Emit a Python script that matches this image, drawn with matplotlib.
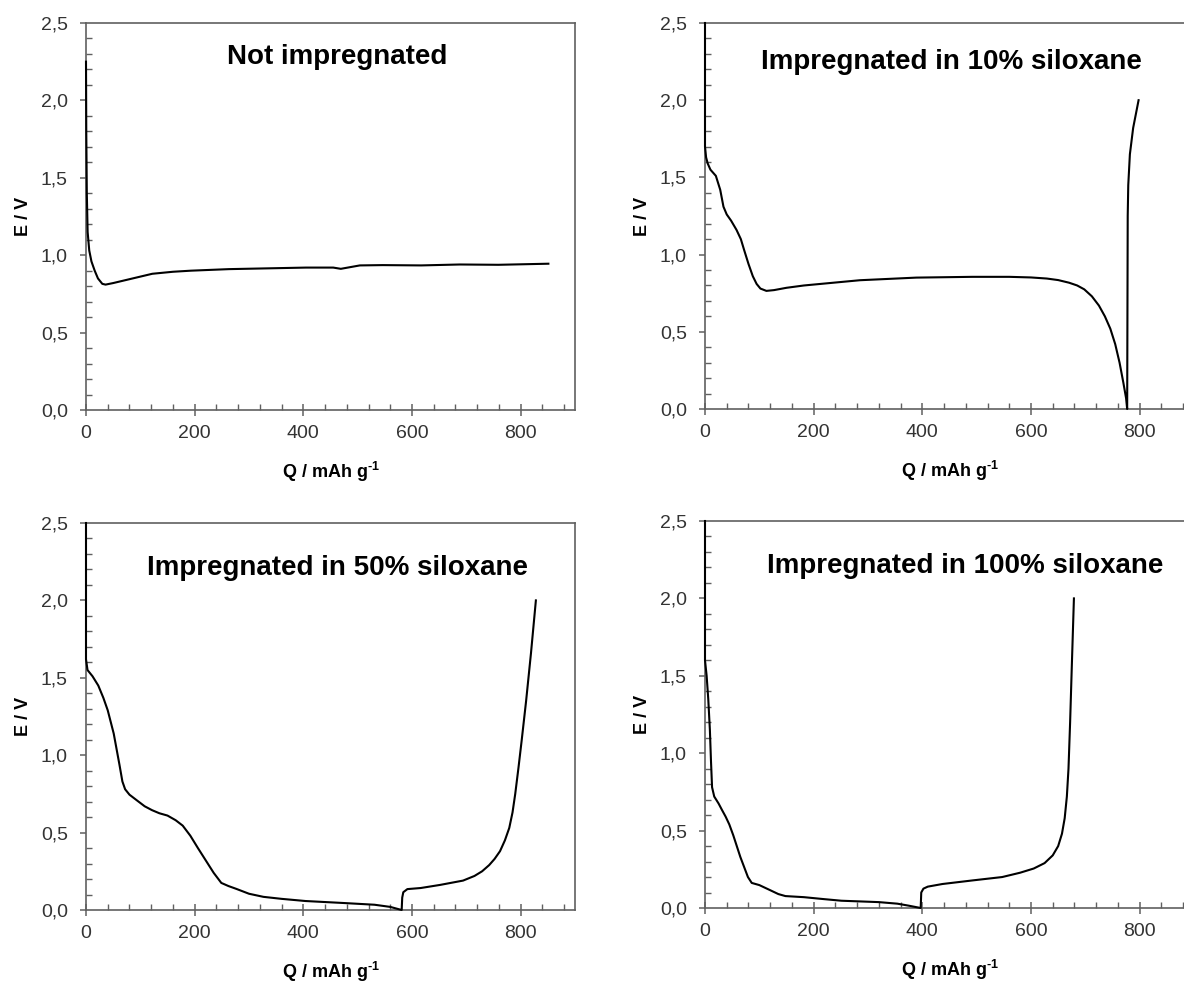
import matplotlib
matplotlib.use("Agg")
import matplotlib.pyplot as plt
from matplotlib.ticker import MultipleLocator, FuncFormatter

plt.rcParams['font.family'] = ['Liberation Sans', 'DejaVu Sans']
plt.rcParams['mathtext.fontset'] = 'custom'
plt.rcParams['mathtext.rm'] = 'Liberation Sans:bold'
plt.rcParams['mathtext.bf'] = 'Liberation Sans:bold'

# --- data: Q (mAh/g) and E (V) ---
q_none = [0, 0.5, 1.5, 3, 6, 10, 16, 22, 30, 36, 50, 80, 122, 160, 193, 263, 405, 455, 469,
          504, 546, 617, 688, 759, 851]
e_none = [2.25, 1.8, 1.4, 1.15, 1.03, 0.96, 0.9, 0.85, 0.815, 0.81, 0.82, 0.845, 0.88, 0.893, 0.90, 0.91, 0.92, 0.92, 0.912,
          0.934, 0.936, 0.934, 0.94, 0.938, 0.945]

q_10 = [0, 0, 2, 5, 10, 20, 28, 34, 40, 48, 58, 66, 72, 80, 88, 95, 102, 113, 127, 150, 182, 285, 389, 492,
        560, 600, 629, 650, 670, 685, 698, 712, 725, 736, 746, 755, 763, 770, 775, 777,
        778, 779, 782, 788, 798]
e_10 = [2.5, 1.7, 1.63, 1.59, 1.55, 1.51, 1.42, 1.31, 1.26, 1.22, 1.16, 1.10, 1.03, 0.94, 0.86, 0.81, 0.78, 0.765, 0.77, 0.785, 0.80, 0.834, 0.851, 0.856,
        0.856, 0.852, 0.845, 0.835, 0.818, 0.80, 0.775, 0.73, 0.67, 0.60, 0.52, 0.42, 0.30, 0.17, 0.07, 0.0,
        1.25, 1.45, 1.65, 1.82, 2.0]

q_50 = [0, 0, 2.8, 12, 22.6, 32, 40, 51, 61.5, 67, 72, 80, 93, 108, 121.5, 135, 150, 165, 178, 192, 206, 220.5,
        235, 249, 262, 277, 300, 326.5, 360, 404, 475, 531, 560, 581,
        582, 584, 591.5, 616, 651.6, 694, 715, 729, 742, 752, 762, 771, 779, 785, 790, 796, 802, 810, 819, 828]
e_50 = [2.5, 1.62, 1.55, 1.51, 1.45, 1.37, 1.29, 1.14, 0.94, 0.83, 0.78, 0.745, 0.71, 0.67, 0.645, 0.625, 0.61, 0.58, 0.545, 0.48, 0.40, 0.32,
        0.24, 0.175, 0.155, 0.136, 0.105, 0.085, 0.072, 0.058, 0.045, 0.034, 0.02, 0.0,
        0.08, 0.115, 0.135, 0.142, 0.162, 0.19, 0.22, 0.25, 0.29, 0.33, 0.38, 0.45, 0.53, 0.63, 0.75, 0.92, 1.1, 1.35, 1.66, 2.0]

q_100 = [0, 0, 3, 6, 9, 11, 13, 17, 25, 31, 38, 44.7, 52, 58.5, 65, 72, 79, 86, 100, 120, 135, 148, 182, 217, 251,
         320, 354, 375, 397, 398, 402, 410, 437, 492, 547, 580, 605, 625, 640, 650, 657, 662, 666, 669, 672, 675, 679]
e_100 = [2.5, 1.6, 1.5, 1.35, 1.15, 0.95, 0.78, 0.72, 0.675, 0.635, 0.59, 0.54, 0.47, 0.40, 0.33, 0.265, 0.2, 0.162, 0.148, 0.115, 0.09, 0.077, 0.07, 0.058, 0.047,
         0.038, 0.028, 0.015, 0.0, 0.1, 0.125, 0.138, 0.155, 0.178, 0.2, 0.228, 0.255, 0.29, 0.34, 0.40, 0.48, 0.58, 0.72, 0.9, 1.2, 1.55, 2.0]

titles = ["Not impregnated", "Impregnated in 10% siloxane",
          "Impregnated in 50% siloxane", "Impregnated in 100% siloxane"]
title_pos = [(463, 2.28), (454, 2.25), (463, 2.21), (478, 2.21)]

W, H = 1184, 984
fig = plt.figure(figsize=(W / 100, H / 100), dpi=100)

# axes boxes in pixels: left, top(y of 2.5), bottom(y of 0.0)
boxes = [(86, 23, 410), (705, 23, 409), (86, 523, 910), (705, 521, 908)]
series = [(q_none, e_none), (q_10, e_10), (q_50, e_50), (q_100, e_100)]

comma = FuncFormatter(lambda v, p: ("%.1f" % v).replace(".", ","))

for (left, top, bot), (q, e), title, tp in zip(boxes, series, titles, title_pos):
    ax = fig.add_axes([left / W, (H - bot) / H, 489 / W, (bot - top) / H])
    ax.plot(q, e, color="black", lw=1.5, clip_on=False, zorder=5)
    ax.set_xlim(0, 900)
    ax.set_ylim(0, 2.5)
    ax.xaxis.set_major_locator(MultipleLocator(200))
    ax.xaxis.set_minor_locator(MultipleLocator(40))
    ax.yaxis.set_major_locator(MultipleLocator(0.5))
    ax.yaxis.set_minor_locator(MultipleLocator(0.1))
    ax.yaxis.set_major_formatter(comma)
    for s in ax.spines.values():
        s.set_color("#606060")
        s.set_linewidth(1.2)
    ax.tick_params(axis="x", which="major", direction="inout", length=9, width=1.1,
                   color="#606060", labelsize=14, labelcolor="#333333", pad=6)
    ax.tick_params(axis="x", which="minor", direction="in", length=4, width=1.0, color="#606060")
    ax.tick_params(axis="y", which="major", direction="out", length=4, width=1.1,
                   color="#606060", labelsize=14, labelcolor="#333333", pad=9)
    ax.tick_params(axis="y", which="minor", direction="in", length=4, width=1.0, color="#606060")
    ax.set_ylabel("E / V", fontsize=13, fontweight="bold")
    ax.yaxis.set_label_coords(-0.11, 0.5)
    ax.set_xlabel(r"Q / mAh g$^{\text{-1}}$", fontsize=13, fontweight="bold")
    ax.xaxis.set_label_coords(0.5, -0.128)
    ax.text(tp[0], tp[1], title, ha="center", va="center", fontsize=20, fontweight="bold")

fig.savefig("out.png", dpi=100)
